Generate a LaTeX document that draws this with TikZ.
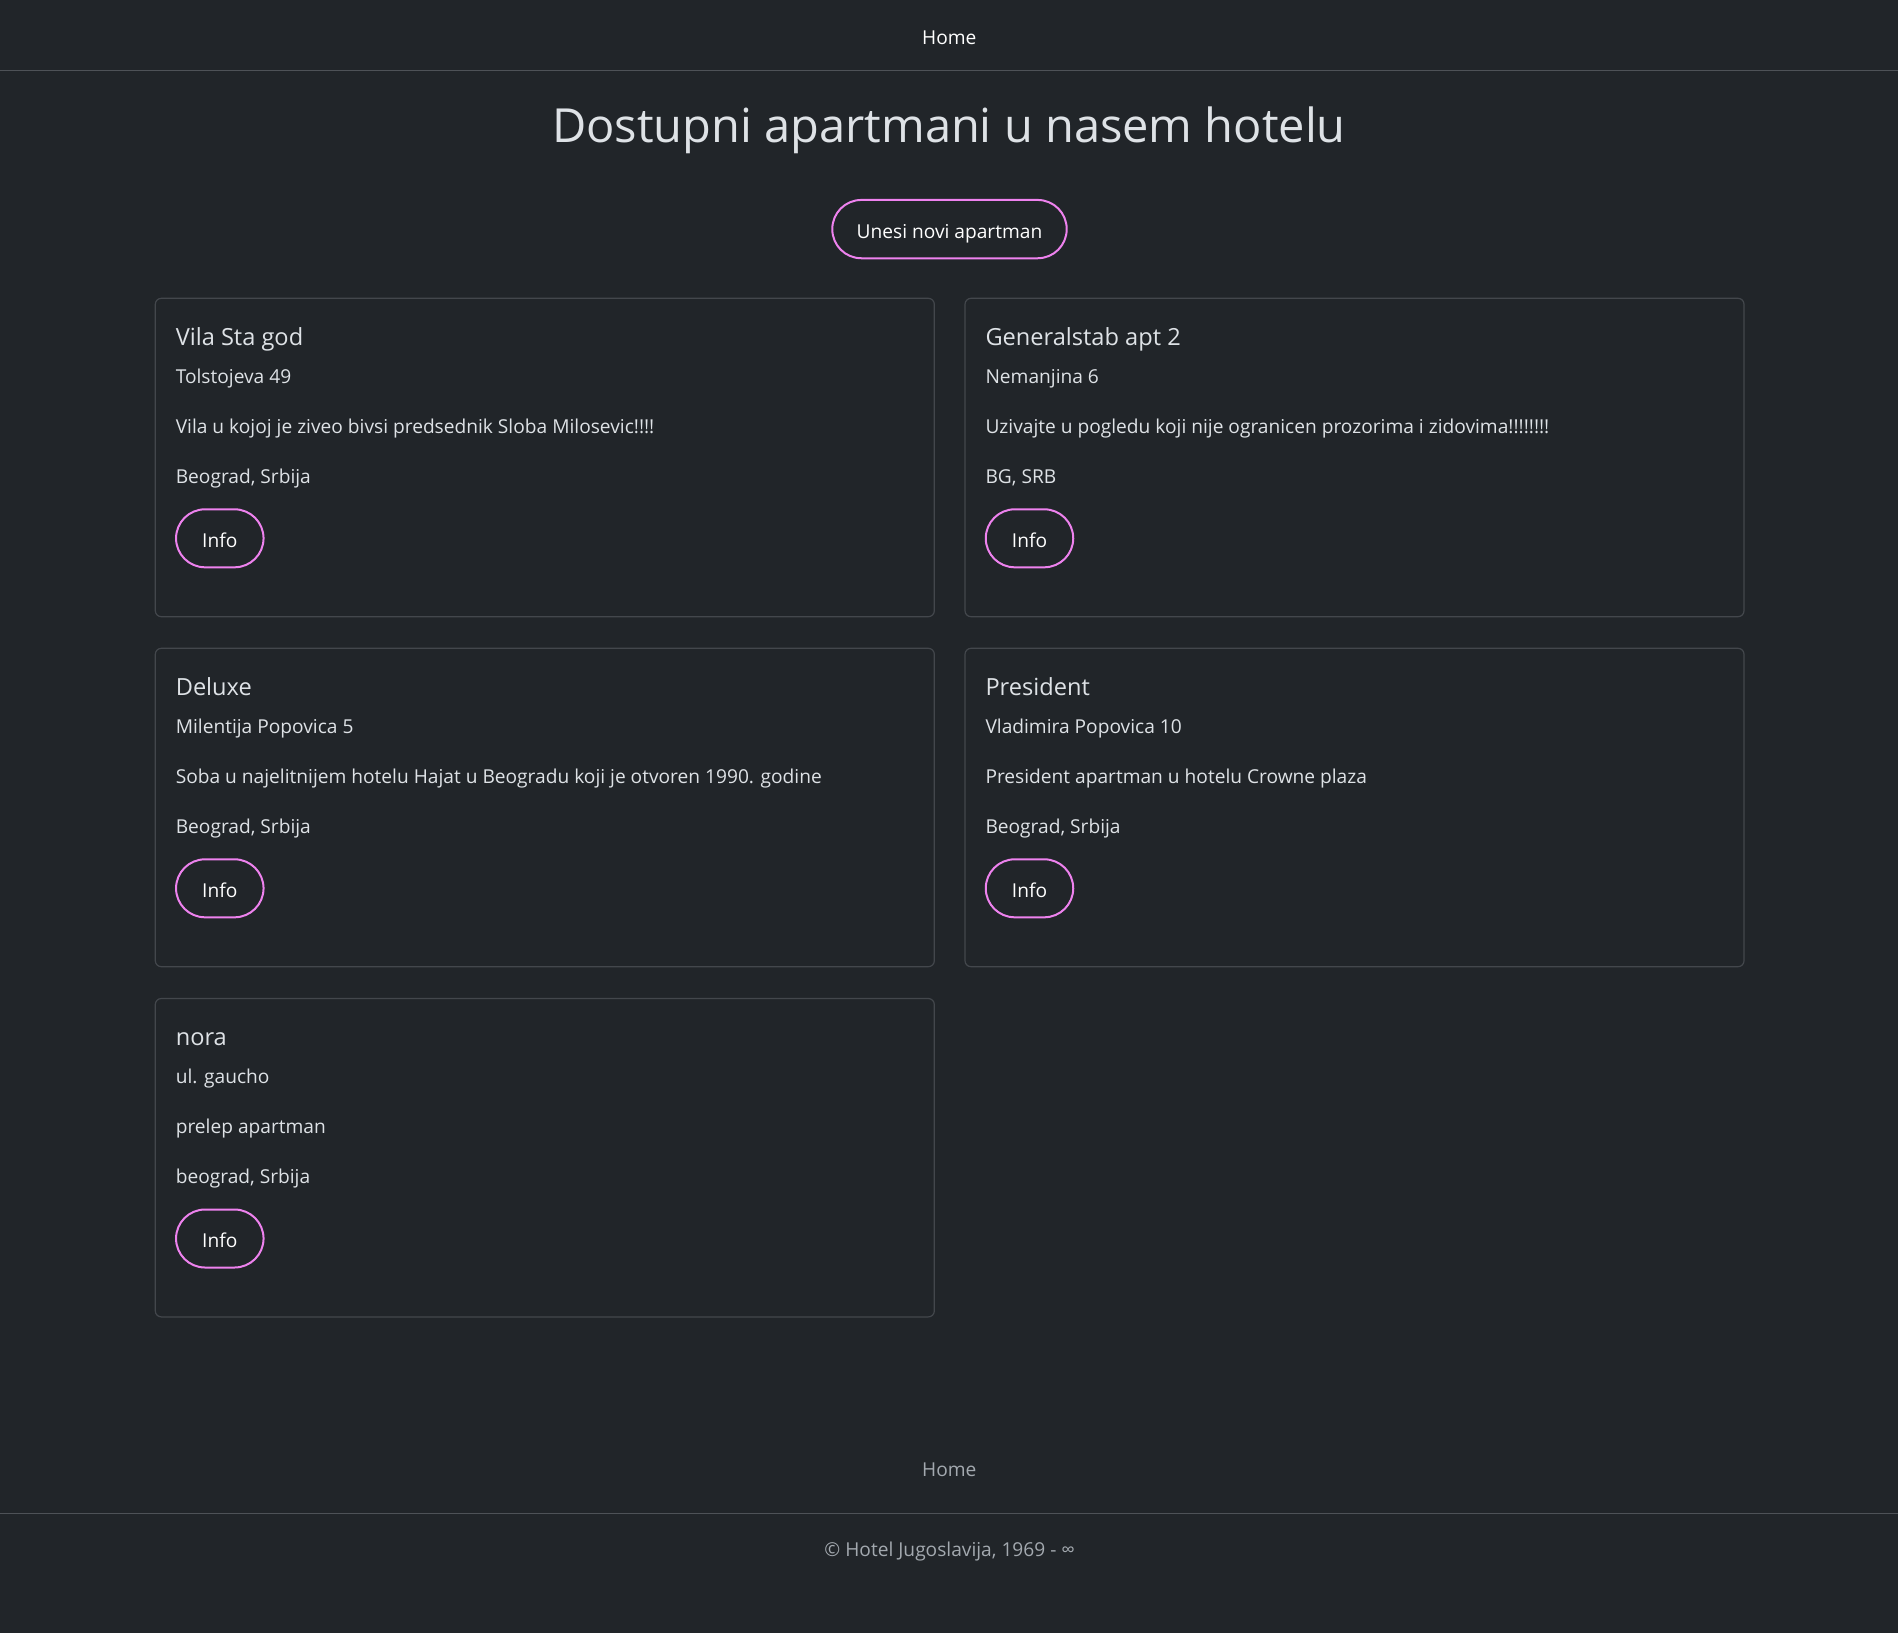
\documentclass[tikz,border=0pt]{standalone}
\usepackage{fontspec}
\setmainfont{Open Sans}
\definecolor{bg}{HTML}{212529}
\definecolor{bodytxt}{HTML}{DEE2E6}
\definecolor{cardline}{HTML}{43474C}
\definecolor{pinkline}{HTML}{EE82EE}
\definecolor{muted}{HTML}{A3A9AF}
\definecolor{navline}{HTML}{4E5257}
\tikzset{
  txt/.style={anchor=base west, inner sep=0pt, text=bodytxt, font=\fontsize{19.15}{23}\selectfont},
  ttl/.style={txt, font=\fontsize{23.6}{29}\selectfont},
  cardbox/.style={draw=cardline, line width=1.2pt, rounded corners=6pt},
  pill/.style={draw=pinkline, line width=2pt, rounded corners=29pt, minimum height=58pt,
     inner sep=0pt, text height=18.6pt, text depth=0pt, text=white, font=\fontsize{19.15}{23}\selectfont},
  ctr/.style={anchor=base, inner sep=0pt, font=\fontsize{19.15}{23}\selectfont}
}
\newcommand\aptcard[7]{%
  % #1 name, #2 left, #3 top, #4 title, #5 address, #6 description, #7 location
  \draw[cardbox] (#2,#3) rectangle ++(779,318.4);
  \node[ttl] (#1t) at (#2+20.3,#3+47) {#4};
  \node[txt] (#1a) at (#2+20.3,#3+85.3) {#5};
  \node[txt] (#1d) at (#2+20.3,#3+135.3) {#6};
  \node[txt] (#1l) at (#2+20.3,#3+184.8) {#7};
  \node[pill, minimum width=87.5pt] (#1b) at (#2+64.5,#3+240) {Info};
}
\begin{document}
\begin{tikzpicture}[x=1pt,y=-1pt]
\fill[bg] (0,0) rectangle (1898,1633);
\useasboundingbox (0,0) rectangle (1898,1633);
% navbar
\node[ctr, text=white] (navhome) at (949.3,44) {Home};
\draw[navline, line width=1.2pt] (0,70.3) -- (1898,70.3);
% heading
\node[anchor=base, inner sep=0pt, text=bodytxt, font=\fontsize{47}{56}\selectfont] (heading) at (949,142.5) {Dostupni apartmani u nasem hotelu};
\node[pill, minimum width=234.4pt, minimum height=58.3pt] (newbtn) at (949.5,229.1) {Unesi novi apartman};
% cards
\aptcard{c1}{155.3}{298.3}{Vila Sta god}{Tolstojeva 49}{Vila u kojoj je ziveo bivsi predsednik Sloba Milosevic!!!!}{Beograd, Srbija}
\aptcard{c2}{965.0}{298.3}{Generalstab apt 2}{Nemanjina 6}{Uzivajte u pogledu koji nije ogranicen prozorima i zidovima!!!!!!!!}{BG, SRB}
\aptcard{c3}{155.3}{648.3}{Deluxe}{Milentija Popovica 5}{Soba u najelitnijem hotelu Hajat u Beogradu koji je otvoren 1990. godine}{Beograd, Srbija}
\aptcard{c4}{965.0}{648.3}{President}{Vladimira Popovica 10}{President apartman u hotelu Crowne plaza}{Beograd, Srbija}
\aptcard{c5}{155.3}{998.5}{nora}{ul. gaucho}{prelep apartman}{beograd, Srbija}
% footer
\node[ctr, text=muted] (foothome) at (949.3,1476) {Home};
\draw[navline, line width=1.2pt] (0,1513.7) -- (1898,1513.7);
\node[ctr, text=muted] (copy) at (949.7,1556.7) {© Hotel Jugoslavija, 1969 - ∞};
\end{tikzpicture}
\end{document}
